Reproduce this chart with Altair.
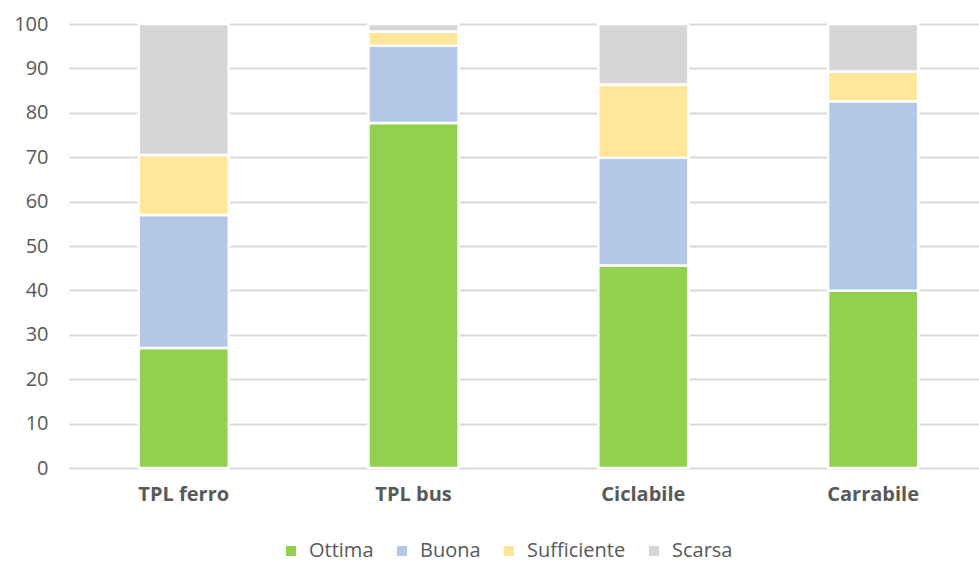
import altair as alt
import pandas as pd

categories = ["TPL ferro", "TPL bus", "Ciclabile", "Carrabile"]
levels = ["Ottima", "Buona", "Sufficiente", "Scarsa"]
ottima = [27.0, 77.7, 45.6, 39.9]
buona = [30.0, 17.4, 24.3, 42.7]
sufficiente = [13.5, 3.2, 16.5, 6.7]
scarsa = [29.5, 1.7, 13.6, 10.7]
colors = ["#92D050", "#B4C7E7", "#FFE699", "#D6D6D6"]

series = [ottima, buona, sufficiente, scarsa]
rows = []
for li, (lvl, vals) in enumerate(zip(levels, series)):
    for cat, v in zip(categories, vals):
        rows.append({"categoria": cat, "livello": lvl, "valore": v, "ordine": li})
df = pd.DataFrame(rows)

FONT = "Open Sans"
GREY_TEXT = "#595959"
GRID = "#D9D9D9"

chart = alt.Chart(df).mark_bar(stroke="white", strokeWidth=2.5).encode(
    x=alt.X(
        "categoria:N",
        sort=categories,
        title=None,
        scale=alt.Scale(paddingInner=0.608, paddingOuter=0.284, align=0.534),
        axis=alt.Axis(
            labelAngle=0,
            labelFont=FONT,
            labelFontSize=20,
            labelFontWeight="bold",
            labelColor=GREY_TEXT,
            labelPadding=16,
            ticks=False,
            grid=False,
            domain=False,
        ),
    ),
    y=alt.Y(
        "valore:Q",
        stack="zero",
        title=None,
        scale=alt.Scale(domain=[0, 100], nice=False),
        axis=alt.Axis(
            values=list(range(0, 101, 10)),
            labelFont=FONT,
            labelFontSize=20,
            labelColor=GREY_TEXT,
            labelPadding=21,
            ticks=False,
            domain=False,
            gridColor=GRID,
            gridWidth=2,
        ),
    ),
    color=alt.Color(
        "livello:N",
        sort=levels,
        scale=alt.Scale(domain=levels, range=colors),
        legend=alt.Legend(
            title=None,
            orient="none",
            legendX=212,
            legendY=517,
            direction="horizontal",
            symbolType="square",
            symbolSize=100,
            symbolStrokeWidth=0,
            labelFont=FONT,
            labelFontSize=20,
            labelColor=GREY_TEXT,
            labelOffset=8,
            columnPadding=18,
        ),
    ),
    order=alt.Order("ordine:Q", sort="ascending"),
).properties(
    width=910,
    height=444,
    autosize=alt.AutoSizeParams(type="none"),
    padding={"left": 69, "top": 24, "right": 0, "bottom": 94},
).configure(background="white").configure_view(stroke="transparent", strokeWidth=0)

chart.save("out.html", embed_options={"renderer": "svg", "actions": False})
